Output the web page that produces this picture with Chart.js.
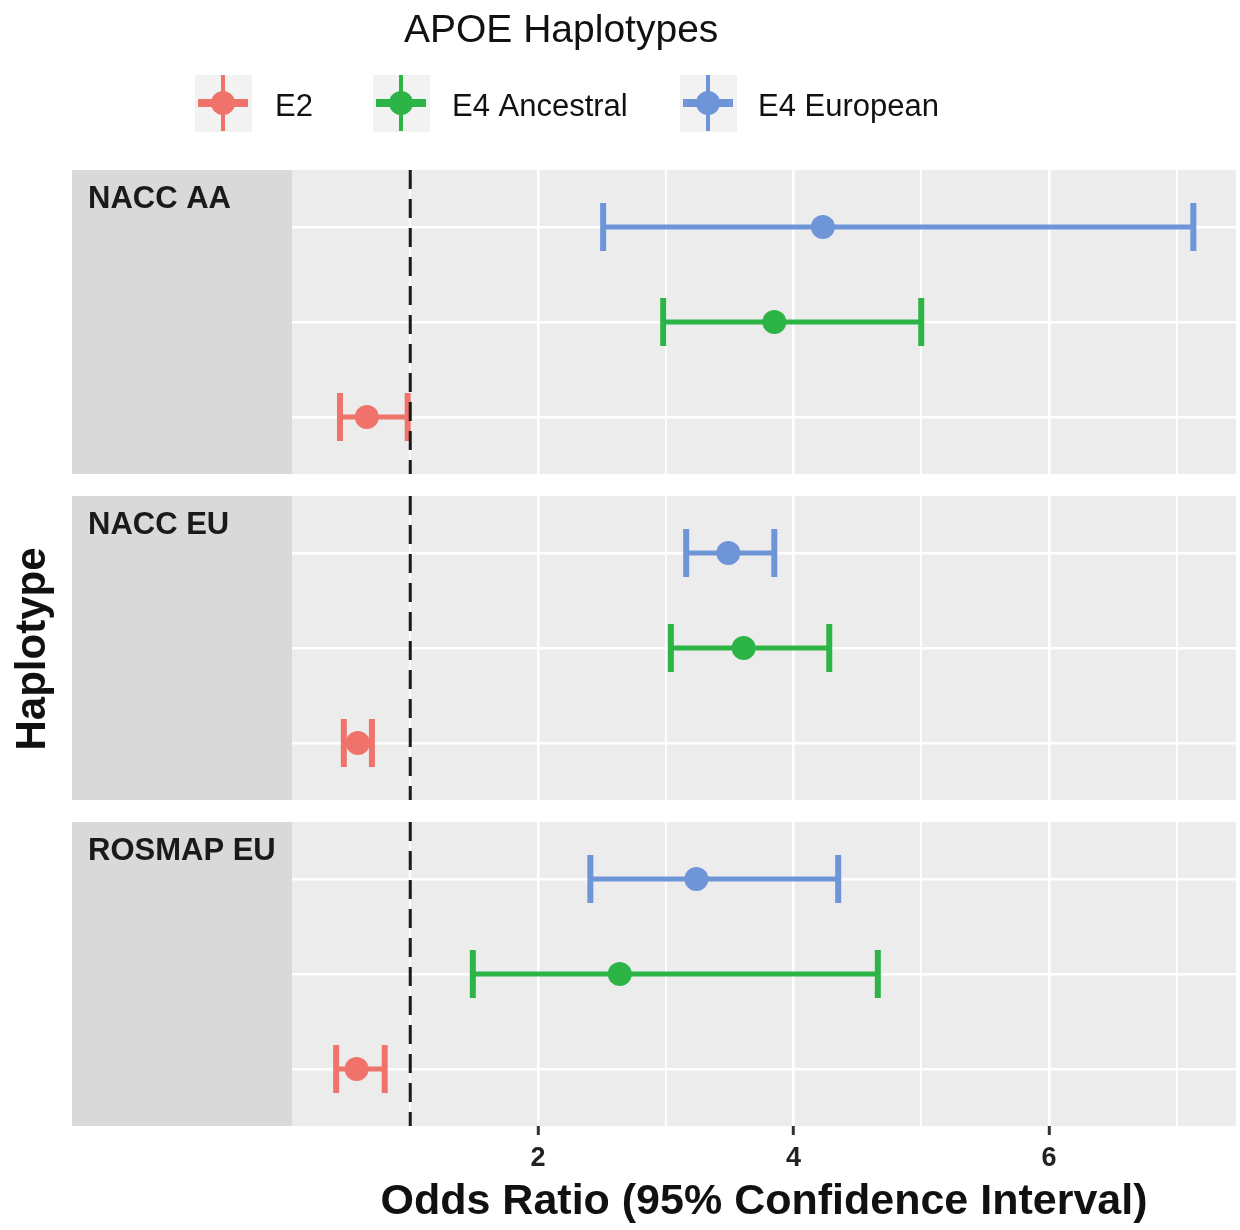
<!DOCTYPE html>
<html>
<head>
<meta charset="utf-8">
<script src="https://cdn.jsdelivr.net/npm/chart.js@4.4.1/dist/chart.umd.min.js"></script>
<style>
  body { margin: 0; background: #ffffff; }
  canvas { display: block; }
</style>
</head>
<body>
<canvas id="chartHaplotipos" width="1240" height="1230"></canvas>
<script>
// Datos (orden de cohortes: NACC AA, NACC EU, ROSMAP EU)
const cohortes = ['NACC AA', 'NACC EU', 'ROSMAP EU'];
const haplotipos = ['E2', 'E4 Ancestral', 'E4 European'];
const colores = ['#F0736B', '#2DB447', '#6E95D7'];

const oddsE2 = [0.66, 0.59, 0.58];
const bajoE2 = [0.45, 0.48, 0.42];
const altoE2 = [0.98, 0.70, 0.80];

const oddsE4Anc = [3.85, 3.61, 2.64];
const bajoE4Anc = [2.98, 3.04, 1.49];
const altoE4Anc = [5.00, 4.28, 4.66];

const oddsE4Eur = [4.23, 3.49, 3.24];
const bajoE4Eur = [2.51, 3.16, 2.41];
const altoE4Eur = [7.13, 3.85, 4.35];

const ticksX = [2, 4, 6];
const lineasX = [1, 2, 3, 4, 5, 6, 7];

const odds = [oddsE2, oddsE4Anc, oddsE4Eur];
const bajos = [bajoE2, bajoE4Anc, bajoE4Eur];
const altos = [altoE2, altoE4Anc, altoE4Eur];

// Geometria de los paneles (en unidades del eje y)
const ALTO_PANEL = 3.2;
const SEPARACION = 0.2316;
const OFFSET_FILA = 0.6;
const Y_MAX = cohortes.length * ALTO_PANEL + (cohortes.length - 1) * SEPARACION;

function inicioPanel(p) {
    return p * (ALTO_PANEL + SEPARACION);
}
// E4 European arriba, E2 abajo
function filaY(p, h) {
    return inicioPanel(p) + OFFSET_FILA + (haplotipos.length - 1 - h);
}

const filas = [];
cohortes.forEach((c, p) => haplotipos.forEach((hh, h) => filas.push(filaY(p, h))));

const FUENTE = "'Liberation Sans', Arial, Helvetica, sans-serif";
Chart.defaults.font.family = FUENTE;

const datasets = haplotipos.map((nombre, h) => ({
    label: nombre,
    data: cohortes.map((c, p) => ({ x: odds[h][p], y: filaY(p, h), lo: bajos[h][p], hi: altos[h][p] })),
    backgroundColor: colores[h],
    borderWidth: 0,
    pointRadius: 12,
    pointHoverRadius: 12,
    showLine: false
}));

const pluginPaneles = {
    id: 'paneles',
    beforeDraw(chart) {
        const ctx = chart.ctx;
        const area = chart.chartArea;
        const y = chart.scales.y;
        ctx.save();
        ctx.fillStyle = '#ffffff';
        ctx.fillRect(0, 0, chart.width, chart.height);

        cohortes.forEach((nombre, p) => {
            const top = y.getPixelForValue(inicioPanel(p));
            const bottom = y.getPixelForValue(inicioPanel(p) + ALTO_PANEL);
            ctx.fillStyle = '#ECECEC';
            ctx.fillRect(area.left, top, area.right - area.left, bottom - top);
            // Tira lateral con el nombre de la cohorte
            ctx.fillStyle = '#D9D9D9';
            ctx.fillRect(72, top, area.left - 72, bottom - top);
            ctx.fillStyle = '#1a1a1a';
            ctx.font = 'bold 31px ' + FUENTE;
            ctx.textAlign = 'left';
            ctx.textBaseline = 'alphabetic';
            ctx.fillText(nombre, 88, top + 38);
        });

        // Leyenda
        ctx.fillStyle = '#111111';
        ctx.font = '39px ' + FUENTE;
        ctx.fillText('APOE Haplotypes', 404, 42);

        const centros = [223, 401, 708];
        const textos = [275, 452, 758];
        haplotipos.forEach((nombre, h) => {
            const cx = centros[h], cy = 103;
            ctx.fillStyle = '#F2F2F2';
            ctx.fillRect(cx - 28, cy - 28, 57, 57);
            ctx.strokeStyle = colores[h];
            ctx.lineWidth = 8;
            ctx.beginPath();
            ctx.moveTo(cx - 25, cy);
            ctx.lineTo(cx + 25, cy);
            ctx.stroke();
            ctx.lineWidth = 4;
            ctx.beginPath();
            ctx.moveTo(cx, cy - 28);
            ctx.lineTo(cx, cy + 28);
            ctx.stroke();
            ctx.fillStyle = colores[h];
            ctx.beginPath();
            ctx.arc(cx, cy, 12, 0, Math.PI * 2);
            ctx.fill();
            ctx.fillStyle = '#111111';
            ctx.font = '31px ' + FUENTE;
            ctx.fillText(nombre, textos[h], 116);
        });

        // Titulo del eje y
        ctx.translate(45, 649);
        ctx.rotate(-Math.PI / 2);
        ctx.textAlign = 'center';
        ctx.font = 'bold 42px ' + FUENTE;
        ctx.fillStyle = '#111111';
        ctx.fillText('Haplotype', 0, 0);
        ctx.restore();
    },
    beforeDatasetsDraw(chart) {
        const ctx = chart.ctx;
        const area = chart.chartArea;
        const x = chart.scales.x;
        const y = chart.scales.y;
        ctx.save();

        // Separacion blanca entre paneles
        ctx.fillStyle = '#ffffff';
        for (let p = 0; p < cohortes.length - 1; p++) {
            const b = y.getPixelForValue(inicioPanel(p) + ALTO_PANEL);
            const t = y.getPixelForValue(inicioPanel(p + 1));
            ctx.fillRect(area.left - 1, b, area.right - area.left + 2, t - b);
        }

        // Barras de error
        chart.data.datasets.forEach((ds, h) => {
            ctx.strokeStyle = ds.backgroundColor;
            ds.data.forEach(pt => {
                const yc = y.getPixelForValue(pt.y);
                const xl = x.getPixelForValue(pt.lo);
                const xh = x.getPixelForValue(pt.hi);
                ctx.lineWidth = 5;
                ctx.beginPath();
                ctx.moveTo(xl, yc);
                ctx.lineTo(xh, yc);
                ctx.stroke();
                ctx.lineWidth = 6;
                ctx.beginPath();
                ctx.moveTo(xl, yc - 24);
                ctx.lineTo(xl, yc + 24);
                ctx.moveTo(xh, yc - 24);
                ctx.lineTo(xh, yc + 24);
                ctx.stroke();
            });
        });

        // Linea de referencia OR = 1
        const x1 = x.getPixelForValue(1);
        ctx.strokeStyle = '#1a1a1a';
        ctx.lineWidth = 3;
        ctx.setLineDash([19, 10]);
        cohortes.forEach((c, p) => {
            ctx.beginPath();
            ctx.moveTo(x1, y.getPixelForValue(inicioPanel(p)));
            ctx.lineTo(x1, y.getPixelForValue(inicioPanel(p) + ALTO_PANEL));
            ctx.stroke();
        });
        ctx.restore();
    }
};

const ctx = document.getElementById('chartHaplotipos').getContext('2d');
window.graficaHaplotipos = new Chart(ctx, {
    type: 'scatter',
    data: { datasets: datasets },
    options: {
        responsive: false,
        animation: false,
        layout: { autoPadding: false, padding: { top: 170, right: 4, left: 0, bottom: 0 } },
        plugins: {
            legend: { display: false },
            tooltip: { enabled: false }
        },
        scales: {
            x: {
                type: 'linear',
                min: 0.0744,
                max: 7.464,
                afterBuildTicks: function (scale) {
                    scale.ticks = lineasX.map(v => ({ value: v }));
                },
                afterFit: function (scale) {
                    scale.height = 104;
                    scale.paddingLeft = 0;
                    scale.paddingRight = 0;
                },
                ticks: {
                    autoSkip: false,
                    maxRotation: 0,
                    padding: 7,
                    color: '#222222',
                    font: { size: 27, weight: 'bold' },
                    callback: function (value) {
                        return ticksX.includes(value) ? String(value) : '';
                    }
                },
                grid: {
                    color: '#ffffff',
                    lineWidth: function (c) {
                        return c.tick && ticksX.includes(c.tick.value) ? 2.6 : 1.8;
                    },
                    tickColor: function (c) {
                        return c.tick && ticksX.includes(c.tick.value) ? '#333333' : 'rgba(0,0,0,0)';
                    },
                    tickWidth: 3,
                    tickLength: 9
                },
                border: { display: false },
                title: {
                    display: true,
                    text: 'Odds Ratio (95% Confidence Interval)',
                    color: '#111111',
                    font: { size: 43, weight: 'bold' },
                    padding: { top: 0, bottom: 2 }
                }
            },
            y: {
                type: 'linear',
                reverse: true,
                min: 0,
                max: Y_MAX,
                afterBuildTicks: function (scale) {
                    scale.ticks = filas.map(v => ({ value: v }));
                },
                afterFit: function (scale) {
                    scale.width = 292;
                },
                ticks: { display: false },
                grid: { color: '#ffffff', lineWidth: 2.6, drawTicks: false },
                border: { display: false }
            }
        }
    },
    plugins: [pluginPaneles]
});
</script>
</body>
</html>
